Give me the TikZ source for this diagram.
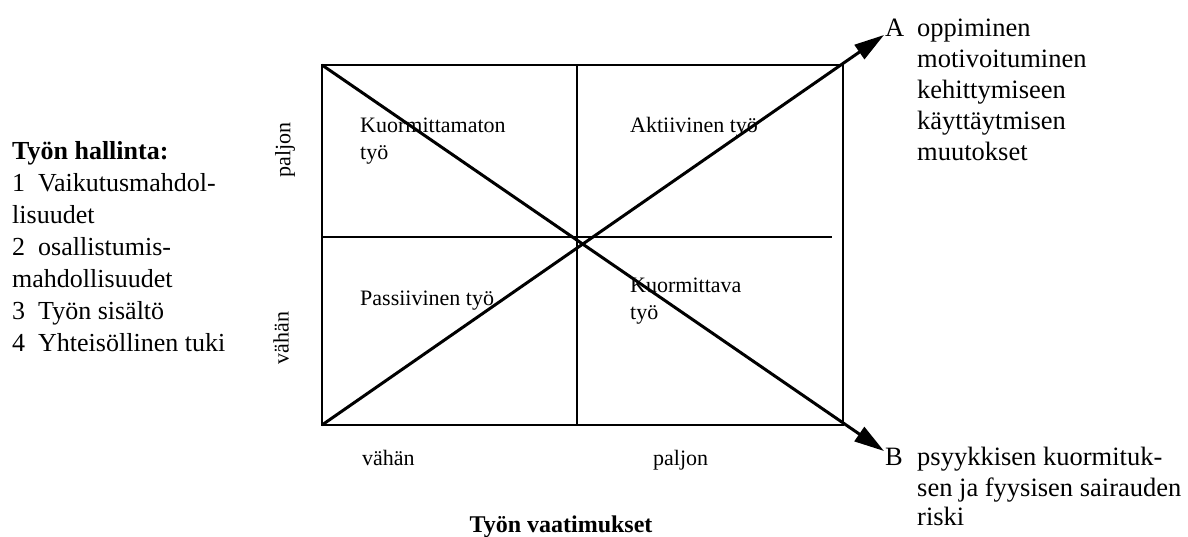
\documentclass[tikz,border=0pt]{standalone}
\usepackage{fontspec}
\setmainfont{Liberation Serif}
\usetikzlibrary{arrows.meta}
\begin{document}
\begin{tikzpicture}[x=1pt,y=-1pt,
  boxline/.style={line width=2pt},
  diag/.style={line width=3pt, -{Triangle[length=30pt,width=17pt]}},
  lbl/.style={inner sep=0, anchor=base west, font=\fontsize{26}{30}\selectfont},
  qlbl/.style={inner sep=0, anchor=base west, font=\fontsize{22}{27}\selectfont},
  rlbl/.style={inner sep=0, anchor=base west, font=\fontsize{26.5}{30}\selectfont},
  axl/.style={inner sep=0, font=\fontsize{22}{27}\selectfont},
  ]
\useasboundingbox (0,0) rectangle (1188,536);
% box corners and grid
\coordinate (tl) at (322,65);
\coordinate (tr) at (843,65);
\coordinate (bl) at (322,425);
\coordinate (br) at (843,425);
\coordinate (mt) at (577,65);
\coordinate (mb) at (577,425);
\coordinate (ml) at (322,237);
\coordinate (mr) at (832,237);
\coordinate (tipA) at (884,35);
\coordinate (tipB) at (884,451);
\draw[boxline] (tl) rectangle (br);
\draw[boxline] (mt) -- (mb);
\draw[boxline] (ml) -- (mr);
\draw[diag] (bl) -- (tipA);
\draw[diag] (tl) -- (tipB);
% left block
\node[lbl, font=\fontsize{26}{30}\selectfont\bfseries] (h0) at (12,159) {Työn hallinta:};
\node[lbl] (h1) at (12,191) {1\ \ Vaikutusmahdol-};
\node[lbl] (h2) at (12,223) {lisuudet};
\node[lbl] (h3) at (12,255) {2\ \ osallistumis-};
\node[lbl] (h4) at (12,287) {mahdollisuudet};
\node[lbl] (h5) at (12,319) {3\ \ Työn sisältö};
\node[lbl] (h6) at (12,351) {4\ \ Yhteisöllinen tuki};
% vertical axis labels
\node[axl, rotate=90] (yp) at (285,150) {paljon};
\node[axl, rotate=90] (yv) at (281,338) {vähän};
% quadrant labels
\node[qlbl] (q1a) at (360,132) {Kuormittamaton};
\node[qlbl] (q1b) at (360,159) {työ};
\node[qlbl] (q2) at (630,132) {Aktiivinen työ};
\node[qlbl] (q3) at (360,305) {Passiivinen työ};
\node[qlbl] (q4a) at (630,292) {Kuormittava};
\node[qlbl] (q4b) at (630,319) {työ};
% bottom axis labels
\node[qlbl] (xv) at (362,465) {vähän};
\node[qlbl] (xp) at (653,465) {paljon};
\node[inner sep=0, anchor=base, font=\fontsize{24}{28}\selectfont\bfseries] (title) at (561,532) {Työn vaatimukset};
% right block A
\node[rlbl] (A) at (885,36) {A};
\node[rlbl] (a1) at (917,36) {oppiminen};
\node[rlbl] (a2) at (917,67) {motivoituminen};
\node[rlbl] (a3) at (917,98) {kehittymiseen};
\node[rlbl] (a4) at (917,129) {käyttäytmisen};
\node[rlbl] (a5) at (917,160) {muutokset};
% right block B
\node[rlbl] (B) at (885,465) {B};
\node[rlbl] (b1) at (917,465) {psyykkisen kuormituk-};
\node[rlbl] (b2) at (917,496) {sen ja fyysisen sairauden};
\node[rlbl] (b3) at (917,525) {riski};
\end{tikzpicture}
\end{document}
